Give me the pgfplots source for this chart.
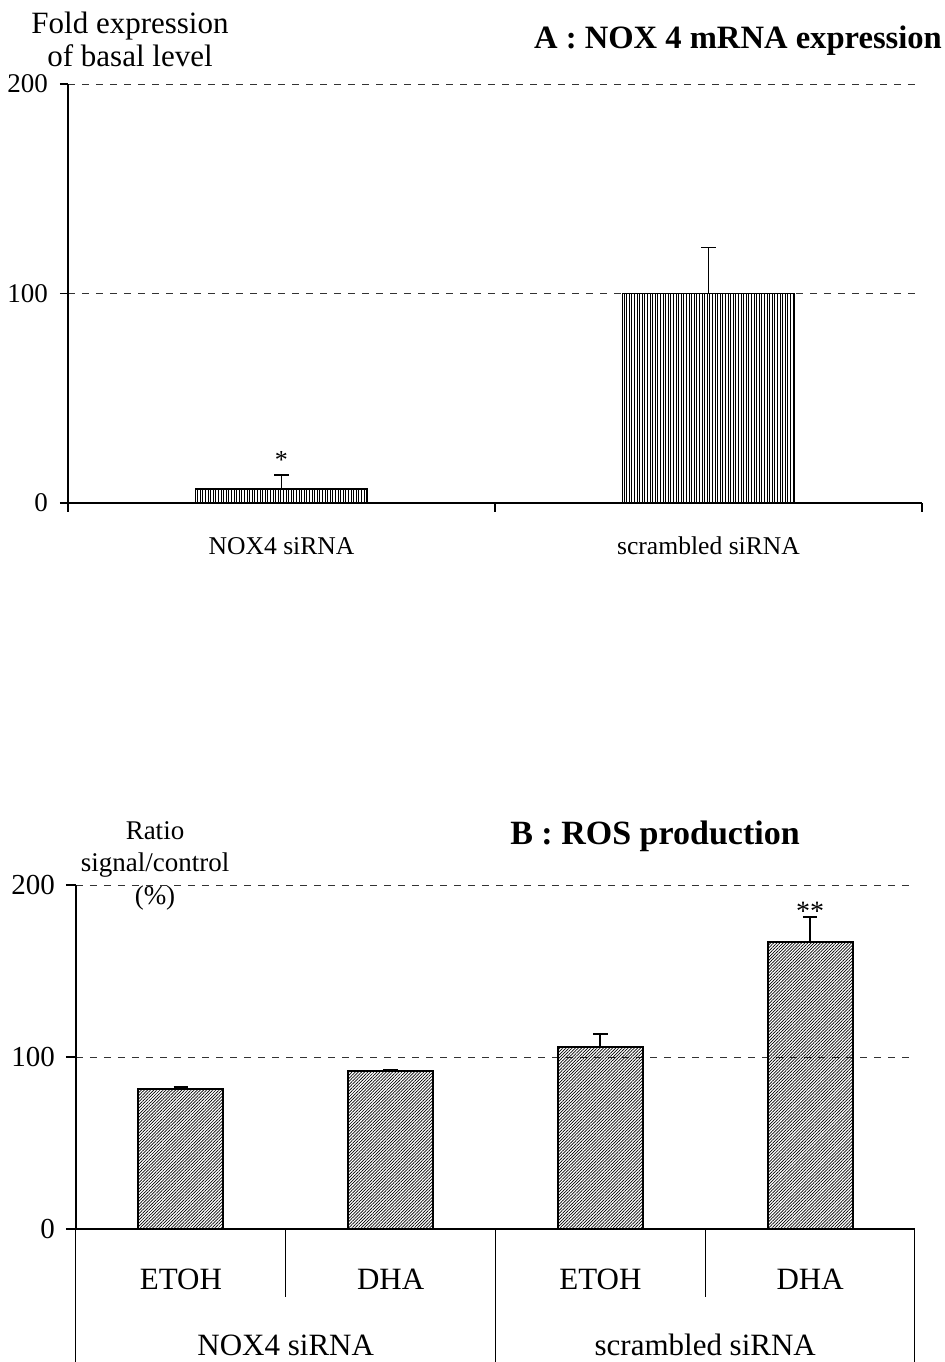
\documentclass[border=0pt]{standalone}
\usepackage{fontspec}
\setmainfont{Liberation Serif}
\usepackage{pgfplots}
\pgfplotsset{compat=1.18}
\usetikzlibrary{patterns.meta}
\newcommand{\fs}[1]{\fontsize{#1}{#1}\selectfont}
\begin{document}
\begin{tikzpicture}[x=1pt,y=1pt]
\useasboundingbox (0,0) rectangle (472,-681);
% ---------- Panel A ----------
\begin{axis}[
  at={(34pt,-251.5pt)}, anchor=south west,
  scale only axis, width=427pt, height=209.5pt,
  xmin=-0.5, xmax=1.5, ymin=0, ymax=200,
  axis lines=left, axis line style={-, line width=0.6pt},
  /pgf/number format/assume math mode=true,
  ytick={0,100,200},
  yticklabel style={font=\fs{13.5}, xshift=-2.5pt},
  tick align=outside, major tick length=4pt,
  ytick style={black, line width=0.6pt},
  xtick={0,1}, xticklabels={NOX4 siRNA, scrambled siRNA},
  xtick style={draw=none},
  xticklabel style={font=\fs{12.8}, yshift=-9.5pt},
  ymajorgrids, grid style={black!80, line width=0.5pt, dash pattern=on 3.5pt off 3.5pt},
  ybar, bar width=86pt,
  clip=false,
]
\addplot[draw=black, line width=0.9pt, fill=white,
  pattern={Lines[angle=90,distance=1.3pt,line width=0.3pt]},
  error bars/.cd, y dir=plus, y explicit, error mark=|,
  error bar style={line width=0.9pt},
  error mark options={line width=0.9pt, mark size=3.6pt}]
  coordinates {(0,6.7) +- (0,6.7) (1,100) +- (0,22)};
\draw[line width=0.6pt] (axis cs:-0.5,0) -- ([yshift=-4.5pt]axis cs:-0.5,0);
\draw[line width=0.6pt] (axis cs:0.5,0) -- ([yshift=-4.5pt]axis cs:0.5,0);
\draw[line width=0.6pt] (axis cs:1.5,0) -- ([yshift=-4.5pt]axis cs:1.5,0);
\node[font=\fs{13}, above=-0.5pt] at (axis cs:0,13.4) {*};
\end{axis}
\node[font=\fs{15.5}] at (65,-13) {Fold expression};
\node[font=\fs{15.5}] at (65,-28) {of basal level};
\node[font=\bfseries\fs{16.3}] at (369,-20.5) {A : NOX 4 mRNA expression};
% ---------- Panel B ----------
\begin{axis}[
  at={(38pt,-614.5pt)}, anchor=south west,
  scale only axis, width=419.5pt, height=172pt,
  xmin=-0.5, xmax=3.5, ymin=0, ymax=200,
  axis lines=left, axis line style={-, line width=0.6pt},
  /pgf/number format/assume math mode=true,
  ytick={0,100,200},
  yticklabel style={font=\fs{14.5}, xshift=-2pt},
  tick align=outside, major tick length=5pt,
  ytick style={black, line width=0.6pt},
  xtick={0,1,2,3}, xticklabels={ETOH, DHA, ETOH, DHA},
  xtick style={draw=none},
  xticklabel style={font=\fs{15.5}, yshift=-11.5pt},
  ymajorgrids, grid style={black!80, line width=0.5pt, dash pattern=on 3.5pt off 3.5pt},
  ybar, bar width=42.5pt,
  clip=false,
]
\addplot[draw=black, line width=0.9pt, fill=white,
  pattern={Lines[angle=45,distance=1.1pt,line width=0.35pt]},
  error bars/.cd, y dir=plus, y explicit, error mark=|,
  error bar style={line width=0.9pt},
  error mark options={line width=0.9pt, mark size=3.6pt}]
  coordinates {(0,81.4) +- (0,1.2) (1,91.9) +- (0,0.4) (2,105.8) +- (0,7.6) (3,166.9) +- (0,14.5)};
\draw[line width=0.5pt] (axis cs:-0.5,0) -- ([yshift=-66.5pt]axis cs:-0.5,0);
\draw[line width=0.4pt] (axis cs:0.5,0) -- ([yshift=-34pt]axis cs:0.5,0);
\draw[line width=0.5pt] (axis cs:1.5,0) -- ([yshift=-66.5pt]axis cs:1.5,0);
\draw[line width=0.4pt] (axis cs:2.5,0) -- ([yshift=-34pt]axis cs:2.5,0);
\draw[line width=0.5pt] (axis cs:3.5,0) -- ([yshift=-66.5pt]axis cs:3.5,0);
\node[font=\fs{15.5}] at ([yshift=-58pt]axis cs:0.5,0) {NOX4 siRNA};
\node[font=\fs{15.5}] at ([yshift=-58pt]axis cs:2.5,0) {scrambled siRNA};
\node[font=\fs{14}, above=-5.5pt] at (axis cs:3,181.4) {**};
\end{axis}
\node[font=\fs{13.5}] at (77.5,-415.5) {Ratio};
\node[font=\fs{13.5}] at (77.5,-432.5) {signal/control};
\node[font=\fs{13.5}] at (77.5,-449) {(\%)};
\node[font=\bfseries\fs{17}] at (327.5,-418) {B : ROS production};
\end{tikzpicture}
\end{document}
